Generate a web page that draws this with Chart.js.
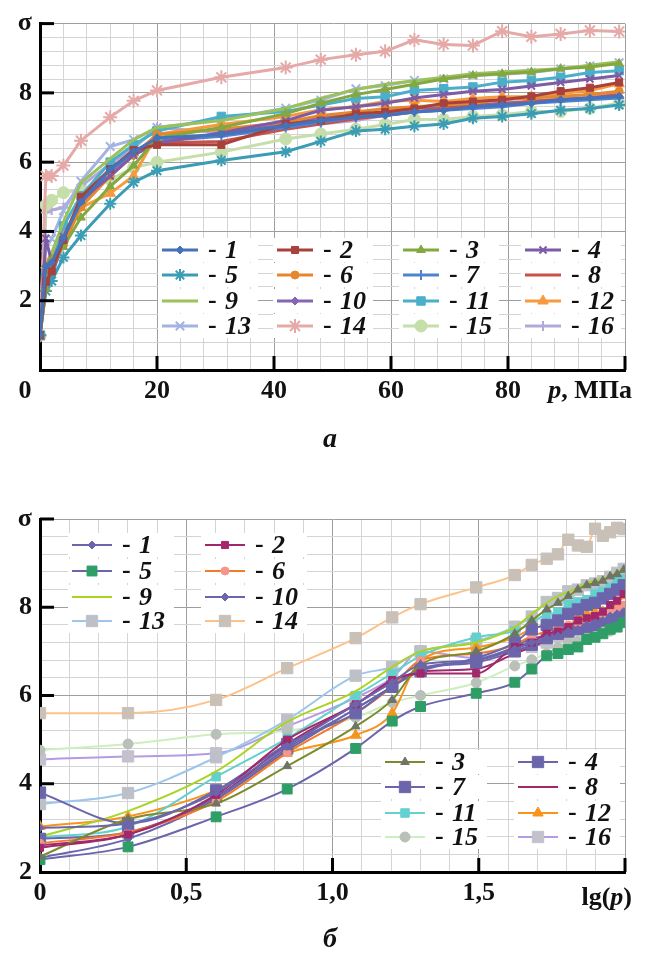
<!DOCTYPE html>
<html>
<head>
<meta charset="utf-8">
<script src="https://cdn.jsdelivr.net/npm/chart.js@4.4.1/dist/chart.umd.min.js"></script>
<style>
    body { margin: 0; background: #fff; width: 646px; height: 957px; overflow: hidden; position: relative; }
    canvas { position: absolute; left: 0; }
    #chartTop { top: 0; }
    #chartBottom { top: 470px; }
</style>
</head>
<body>
<canvas id="chartTop" width="646" height="460"></canvas>
<canvas id="chartBottom" width="646" height="487"></canvas>
<script>
// pressure p, MPa (shared by all 16 curves)
const pressure = [0, 1, 2, 4, 7, 12, 16, 20, 31, 42, 48, 54, 59, 64, 69, 74, 79, 84, 89, 94, 99];

// sigma for curves 1..16
const sigma01 = [1.0, 3.0, 3.1, 3.8, 4.85, 5.8, 6.3, 6.7, 6.8, 7.05, 7.2, 7.3, 7.35, 7.45, 7.5, 7.6, 7.65, 7.7, 7.8, 7.85, 7.9];
const sigma02 = [1.0, 2.55, 2.85, 3.75, 5.0, 5.8, 6.35, 6.5, 6.5, 7.1, 7.2, 7.4, 7.45, 7.55, 7.7, 7.75, 7.8, 7.9, 8.05, 8.15, 8.3];
const sigma03 = [1.0, 2.35, 3.2, 3.55, 4.4, 5.3, 5.9, 6.7, 7.0, 7.4, 7.7, 7.95, 8.1, 8.25, 8.4, 8.5, 8.55, 8.6, 8.7, 8.75, 8.85];
const sigma04 = [1.0, 3.8, 3.1, 3.85, 4.9, 5.6, 6.2, 6.55, 6.85, 7.2, 7.5, 7.6, 7.7, 7.85, 7.95, 8.05, 8.1, 8.2, 8.3, 8.4, 8.5];
const sigma05 = [1.0, 2.28, 2.57, 3.25, 3.88, 4.8, 5.42, 5.75, 6.05, 6.3, 6.6, 6.9, 6.95, 7.04, 7.1, 7.27, 7.32, 7.4, 7.5, 7.55, 7.65];
const sigma06 = [1.0, 2.65, 2.9, 3.6, 4.7, 5.6, 6.2, 6.8, 6.95, 7.15, 7.35, 7.45, 7.55, 7.6, 7.65, 7.7, 7.8, 7.85, 7.9, 7.95, 8.05];
const sigma07 = [1.0, 2.75, 2.9, 3.7, 4.8, 5.7, 6.2, 6.6, 6.75, 7.0, 7.15, 7.3, 7.4, 7.45, 7.5, 7.55, 7.6, 7.7, 7.75, 7.8, 7.85];
const sigma08 = [1.0, 2.6, 2.85, 3.7, 4.9, 5.8, 6.3, 6.55, 6.6, 6.95, 7.1, 7.25, 7.35, 7.45, 7.55, 7.6, 7.65, 7.75, 7.8, 7.85, 7.95];
const sigma09 = [1.0, 2.8, 3.38, 4.28, 5.4, 6.1, 6.65, 7.0, 7.2, 7.55, 7.85, 8.1, 8.25, 8.35, 8.45, 8.55, 8.6, 8.65, 8.7, 8.8, 8.9];
const sigma10 = [1.0, 2.32, 2.75, 3.65, 4.75, 5.7, 6.2, 6.6, 6.8, 7.1, 7.3, 7.35, 7.45, 7.55, 7.6, 7.65, 7.7, 7.75, 7.8, 7.85, 7.9];
const sigma11 = [1.0, 2.78, 3.03, 4.16, 5.03, 6.0, 6.5, 6.9, 7.32, 7.46, 7.65, 7.84, 7.89, 8.07, 8.12, 8.17, 8.31, 8.36, 8.45, 8.59, 8.64];
const sigma12 = [1.0, 3.03, 3.26, 3.85, 4.69, 5.1, 5.6, 6.8, 7.09, 7.32, 7.51, 7.61, 7.75, 7.79, 7.75, 7.84, 7.89, 7.89, 7.98, 8.07, 8.26];
const sigma13 = [1.0, 3.54, 3.79, 4.6, 5.45, 6.45, 6.65, 7.0, 7.23, 7.56, 7.79, 8.12, 8.21, 8.36, 8.4, 8.5, 8.54, 8.59, 8.69, 8.78, 8.87];
const sigma14 = [1.0, 5.6, 5.6, 5.9, 6.62, 7.3, 7.77, 8.07, 8.45, 8.73, 8.96, 9.1, 9.2, 9.53, 9.4, 9.37, 9.78, 9.62, 9.7, 9.8, 9.77];
const sigma15 = [1.0, 4.76, 4.9, 5.12, 5.2, 5.5, 5.84, 6.0, 6.29, 6.67, 6.81, 6.95, 7.09, 7.23, 7.23, 7.32, 7.37, 7.46, 7.46, 7.56, 7.7];
const sigma16 = [1.0, 4.55, 4.62, 4.69, 5.3, 5.95, 6.4, 7.0, 6.85, 7.05, 7.1, 7.2, 7.35, 7.45, 7.55, 7.6, 7.7, 7.75, 7.85, 7.9, 8.0];
const allSigma = [sigma01, sigma02, sigma03, sigma04, sigma05, sigma06, sigma07, sigma08,
                  sigma09, sigma10, sigma11, sigma12, sigma13, sigma14, sigma15, sigma16];

// tick labels
const topXTicks = [20, 40, 60, 80];
const topYTicks = [2, 4, 6, 8];
const bottomXTicks = [0, 0.5, 1.0, 1.5];
const bottomXText = ["0", "0,5", "1,0", "1,5"];
const bottomYTicks = [2, 4, 6, 8];

// styles (panel a)
const topColors = ["#4572B8", "#A8403C", "#84A840", "#7D5BA6", "#3A9DB5", "#E4872E", "#4F83CF", "#C9504B",
                   "#9BC25A", "#8566B5", "#4BAFCA", "#F79A3E", "#A4B4E2", "#E5A9A7", "#C6DEAA", "#B3A9D9"];
const topMarks = ["rectRot", "rect", "triangle", "crossRot", "star", "circle", "cross", false,
                  false, "rectRot", "rect", "triangle", "crossRot", "star", "circle", "cross"];
const topRadius = [4, 5, 5, 5, 6, 4, 5, 0, 0, 4, 6, 6, 6, 7, 6, 5];

// styles (panel б)
const lowLines = ["#6B66AC", "#A2286C", "#7D8B2C", "#6B66AC", "#6B66AC", "#F27A28", "#6B66AC", "#A2286C",
                  "#AAD424", "#6B66AC", "#64D0CF", "#F7941C", "#9CC6EC", "#FDC28A", "#CDEEBE", "#B59BE4"];
const lowFill = ["#6B66AC", "#A2286C", "#6F7566", "#6B66AC", "#2E9E66", "#F4968A", "#6B66AC", "#A2286C",
                 "#AAD424", "#6B66AC", "#64D0CF", "#F7941C", "#BEC0C8", "#C9C0B8", "#B9BFB9", "#C3C1CB"];
const lowMarks = ["rectRot", "rect", "triangle", "rect", "rect", "circle", "rect", false,
                  false, "rectRot", "rect", "triangle", "rect", "rect", "circle", "rect"];
const lowRadius = [4, 5, 5, 8, 7, 4, 8, 0, 0, 4, 6, 6, 8, 8, 5, 8];

const SERIF = '"Liberation Serif", "Times New Roman", serif';
const FS = 26;

function near(a, b) { return Math.abs(a - b) < 1e-6; }
function isMultiple(v, m) { return near(v / m, Math.round(v / m)); }

function tickText(value, list, texts, topValue, topText) {
    const i = list.findIndex(t => near(t, value));
    if (i >= 0) return texts ? texts[i] : String(list[i]);
    if (topValue !== undefined && near(value, topValue)) return topText;
    return "";
}

// legend drawn inside the plot, same as the original figure
const sampleLegend = {
    id: "sampleLegend",
    afterDatasetsDraw(chart, args, opts) {
        const ctx = chart.ctx;
        ctx.save();
        opts.groups.forEach(g => {
            g.rows.forEach((row, r) => {
                row.forEach((num, c) => {
                    const ds = chart.data.datasets[num - 1];
                    const x0 = g.cols[c];
                    const x1 = x0 + g.lineLen;
                    const y = g.rowY[r];
                    const tx = x1 + 10;
                    ctx.fillStyle = "#fff";
                    ctx.fillRect(x0 - 4, y - 12, g.boxW, 24);
                    ctx.strokeStyle = ds.borderColor;
                    ctx.lineWidth = ds.borderWidth;
                    ctx.beginPath();
                    ctx.moveTo(x0, y);
                    ctx.lineTo(x1, y);
                    ctx.stroke();
                    if (ds.pointStyle && ds.pointRadius > 0) {
                        ctx.fillStyle = ds.pointBackgroundColor;
                        ctx.strokeStyle = ds.pointBorderColor;
                        ctx.lineWidth = ds.pointBorderWidth;
                        Chart.helpers.drawPoint(ctx, {
                            pointStyle: ds.pointStyle, radius: ds.pointRadius,
                            rotation: 0, borderWidth: ds.pointBorderWidth
                        }, (x0 + x1) / 2, y);
                    }
                    ctx.fillStyle = "#111";
                    ctx.textBaseline = "middle";
                    ctx.textAlign = "left";
                    ctx.font = "bold " + FS + "px " + SERIF;
                    ctx.fillText("-", tx, y);
                    ctx.font = "italic bold " + FS + "px " + SERIF;
                    ctx.fillText(String(num), tx + 17, y + 1);
                });
            });
        });
        ctx.restore();
    }
};

// inward tick marks, axis name at the right end, panel letter
const axisDecor = {
    id: "axisDecor",
    afterDraw(chart, args, o) {
        const { ctx, chartArea } = chart;
        const xs = chart.scales.x, ys = chart.scales.y;
        ctx.save();
        ctx.strokeStyle = "#000";
        ctx.lineWidth = 3;
        o.yMarks.forEach(v => {
            const py = ys.getPixelForValue(v);
            ctx.beginPath();
            ctx.moveTo(chartArea.left, py);
            ctx.lineTo(chartArea.left + o.len, py);
            ctx.stroke();
        });
        o.xMarks.forEach(v => {
            const px = xs.getPixelForValue(v);
            ctx.beginPath();
            ctx.moveTo(px, chartArea.bottom);
            ctx.lineTo(px, chartArea.bottom - o.len);
            ctx.stroke();
        });

        ctx.fillStyle = "#111";
        ctx.textBaseline = "middle";
        ctx.textAlign = "left";
        const fontOf = it => (it ? "italic bold " : "bold ") + FS + "px " + SERIF;
        let total = 0;
        o.title.forEach(([t, it]) => { ctx.font = fontOf(it); total += ctx.measureText(t).width; });
        let x = o.titleRight - total;
        o.title.forEach(([t, it]) => {
            ctx.font = fontOf(it);
            ctx.fillText(t, x, o.titleY);
            x += ctx.measureText(t).width;
        });

        // origin label sits left of the corner in panel a
        if (o.origin) {
            ctx.textAlign = "center";
            ctx.font = fontOf(false);
            ctx.fillText(o.origin, xs.getPixelForValue(0) - o.originShift, o.titleY);
        }

        ctx.textAlign = "center";
        ctx.font = "italic bold 28px " + SERIF;
        ctx.fillText(o.letter, o.letterX, o.letterY);
        ctx.restore();
    }
};

function makeChart(canvasId, cfg) {
    return new Chart(document.getElementById(canvasId), {
        type: "line",
        data: { datasets: cfg.datasets },
        plugins: [sampleLegend, axisDecor],
        options: {
            responsive: false,
            animation: false,
            events: [],
            layout: { padding: cfg.padding },
            plugins: {
                legend: { display: false },
                tooltip: { enabled: false },
                sampleLegend: { groups: cfg.legendGroups },
                axisDecor: cfg.decor
            },
            scales: {
                x: {
                    type: "linear",
                    min: cfg.xMin, max: cfg.xMax,
                    afterFit: s => { s.height = 40; },
                    border: { color: "#000", width: 3 },
                    grid: {
                        drawTicks: false,
                        color: c => isMultiple(c.tick.value, cfg.xMajor) ? "#9e9e9e" : "#d4d4d4"
                    },
                    ticks: {
                        stepSize: cfg.xStep, autoSkip: false, maxRotation: 0, padding: 6,
                        color: "#111",
                        font: { family: SERIF, size: FS, weight: "bold" },
                        callback: cfg.xLabel
                    }
                },
                y: {
                    min: cfg.yMin, max: cfg.yMax,
                    afterFit: s => { s.width = 40; },
                    border: { color: "#000", width: 3 },
                    grid: {
                        drawTicks: false,
                        color: c => isMultiple(c.tick.value, 2) ? "#9e9e9e" : "#d4d4d4"
                    },
                    ticks: {
                        stepSize: 0.4, autoSkip: false, padding: 8,
                        color: "#111",
                        font: { family: SERIF, size: FS, weight: "bold" },
                        callback: v => tickText(v, cfg.yTicks, null, cfg.yMax, "σ")
                    }
                }
            }
        }
    });
}

const topSets = allSigma.map((s, i) => ({
    label: String(i + 1),
    data: pressure.map((p, k) => ({ x: p, y: s[k] })),
    borderColor: topColors[i],
    borderWidth: 3,
    pointStyle: topMarks[i],
    pointRadius: topRadius[i],
    pointBackgroundColor: topColors[i],
    pointBorderColor: topColors[i],
    pointBorderWidth: (topMarks[i] === "star" || topMarks[i] === "cross" || topMarks[i] === "crossRot") ? 2 : 1,
    tension: 0,
    fill: false
}));

const bottomSets = allSigma.map((s, i) => ({
    label: String(i + 1),
    data: pressure.slice(1).map((p, k) => ({ x: Math.log10(p), y: s[k + 1] })),
    borderColor: lowLines[i],
    borderWidth: 2,
    pointStyle: lowMarks[i],
    pointRadius: lowRadius[i],
    pointBackgroundColor: lowFill[i],
    pointBorderColor: lowFill[i],
    pointBorderWidth: 1,
    cubicInterpolationMode: "monotone",
    fill: false
}));

makeChart("chartTop", {
    datasets: topSets,
    padding: { left: 0, right: 21, top: 14, bottom: 50 },
    xMin: 0, xMax: 100, xStep: 4, xMajor: 20,
    xLabel: v => tickText(v, topXTicks),
    yMin: 0, yMax: 10, yTicks: topYTicks,
    legendGroups: [{
        cols: [162, 277, 403, 525], rowY: [250, 275, 301, 326], lineLen: 36, boxW: 100,
        rows: [[1, 2, 3, 4], [5, 6, 7, 8], [9, 10, 11, 12], [13, 14, 15, 16]]
    }],
    decor: {
        len: 14, yMarks: [2, 4, 6, 8, 10], xMarks: [20, 40, 60, 80, 100],
        title: [["p", true], [", МПа", false]], titleRight: 632, titleY: 391,
        origin: "0", originShift: 15,
        letter: "а", letterX: 330, letterY: 440
    }
});

makeChart("chartBottom", {
    datasets: bottomSets,
    padding: { left: 0, right: 21, top: 49, bottom: 45 },
    xMin: 0, xMax: 2, xStep: 0.1, xMajor: 0.5,
    xLabel: v => tickText(v, bottomXTicks, bottomXText),
    yMin: 2, yMax: 10, yTicks: bottomYTicks,
    legendGroups: [{
        cols: [72, 205], rowY: [75, 101, 127, 151], lineLen: 40, boxW: 106,
        rows: [[1, 2], [5, 6], [9, 10], [13, 14]]
    }, {
        cols: [385, 518], rowY: [292, 317, 343, 367], lineLen: 40, boxW: 106,
        rows: [[3, 4], [7, 8], [11, 12], [15, 16]]
    }],
    decor: {
        len: 14, yMarks: [4, 6, 8, 10], xMarks: [0.5, 1.0, 1.5, 2.0],
        title: [["lg(", false], ["p", true], [")", false]], titleRight: 632, titleY: 428,
        letter: "б", letterX: 330, letterY: 470
    }
});
</script>
</body>
</html>
